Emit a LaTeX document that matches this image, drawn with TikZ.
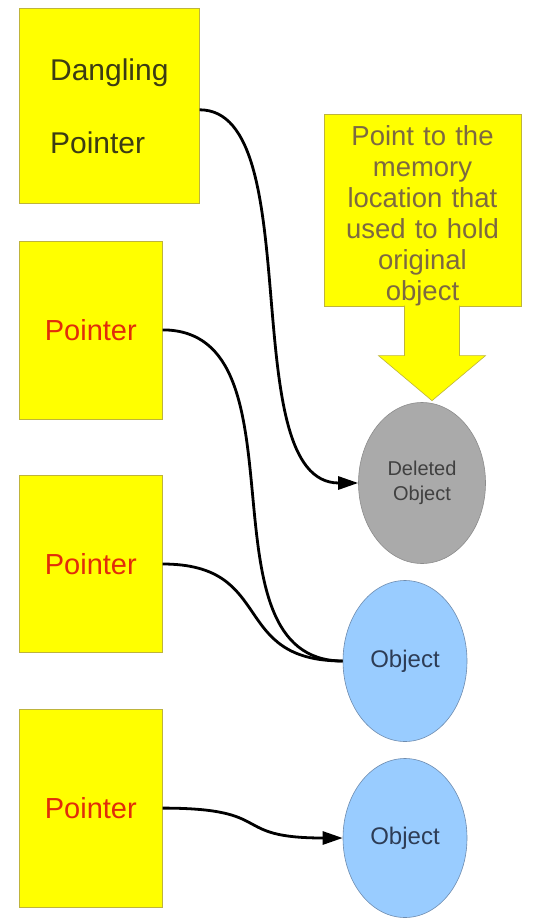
\documentclass[tikz,border=0pt]{standalone}
\usepackage{fontspec}
\setmainfont{Liberation Sans}
\usepackage{xcolor}
\usetikzlibrary{shapes.geometric, arrows.meta, positioning}

\definecolor{memyellow}{RGB}{255,255,0}
\definecolor{memborder}{RGB}{190,180,60}
\definecolor{dangtext}{RGB}{60,60,20}
\definecolor{ptrred}{RGB}{225,45,10}
\definecolor{notetext}{RGB}{125,105,65}
\definecolor{delgray}{RGB}{170,170,170}
\definecolor{delborder}{RGB}{140,140,140}
\definecolor{objblue}{RGB}{153,204,255}
\definecolor{objborder}{RGB}{110,140,175}
\definecolor{objtext}{RGB}{45,60,85}

\begin{document}
\begin{tikzpicture}[
    x=1pt, y=-1pt,
    >={Triangle[length=20pt,width=13pt]},
    box/.style={draw=memborder, line width=0.6pt, fill=memyellow, anchor=north west, minimum width=143pt, inner sep=0pt},
    ptrbox/.style={box, text=ptrred, font=\fontsize{29}{32}\selectfont},
    obj/.style={ellipse, draw=objborder, line width=0.6pt, fill=objblue, minimum width=124pt, minimum height=161pt, inner sep=0pt, text=objtext, font=\fontsize{24}{28}\selectfont},
    link/.style={line width=2.8pt, color=black}
]

% background and page size
\fill[white] (0,0) rectangle (540,920);

% Pointer column
\node[box, minimum width=180pt, minimum height=195pt, align=left, text=dangtext, text depth=0pt, font=\fontsize{30}{73}\selectfont] (dangling) at (19,8) {Dangling\\Pointer};
\node[ptrbox, minimum height=178pt, below=37pt of dangling.south west, anchor=north west] (ptrA) {Pointer};
\node[ptrbox, minimum height=177pt, below=56pt of ptrA.south west, anchor=north west] (ptrB) {Pointer};
\node[ptrbox, minimum height=198pt, below=56pt of ptrB.south west, anchor=north west] (ptrC) {Pointer};

% Object column
\node[obj, fill=delgray, draw=delborder, minimum width=127pt, text=black!75, font=\fontsize{20}{25}\selectfont, align=center] (deleted) at (422,483) {Deleted\\Object};
\node[obj] (objA) at (405,661) {Object};
\node[obj, minimum height=159pt] (objB) at (405,838) {Object};

% Callout
\node[box, anchor=center, minimum width=197pt, minimum height=191pt, text width=190pt, align=center, text=notetext, font=\fontsize{27.5}{31}\selectfont] (note) at (422.5,210.5) {\rule{0pt}{31pt}Point to the\\memory\\location that\\used to hold\\original\\object};
\filldraw[draw=memborder, line width=0.6pt, fill=memyellow] ([xshift=-18pt,yshift=1pt]note.south) -- ++(0,50) -- ++(-26,0) -- ++(53.5,45) -- ++(53.5,-45) -- ++(-26,0) -- ++(0,-50);

% Connections
\draw[link, ->] ([yshift=-4pt]dangling.east) .. controls +(110,0) and +(-125,0) .. (deleted.west);
\draw[link] (ptrA.east) .. controls +(149,0) and +(-149,0) .. (objA.west);
\draw[link] (ptrB.east) .. controls +(114,0) and +(-114,0) .. (objA.west);
\draw[link, ->] (ptrC.east) .. controls +(115,0) and +(-115,0) .. (objB.west);

\end{tikzpicture}
\end{document}
